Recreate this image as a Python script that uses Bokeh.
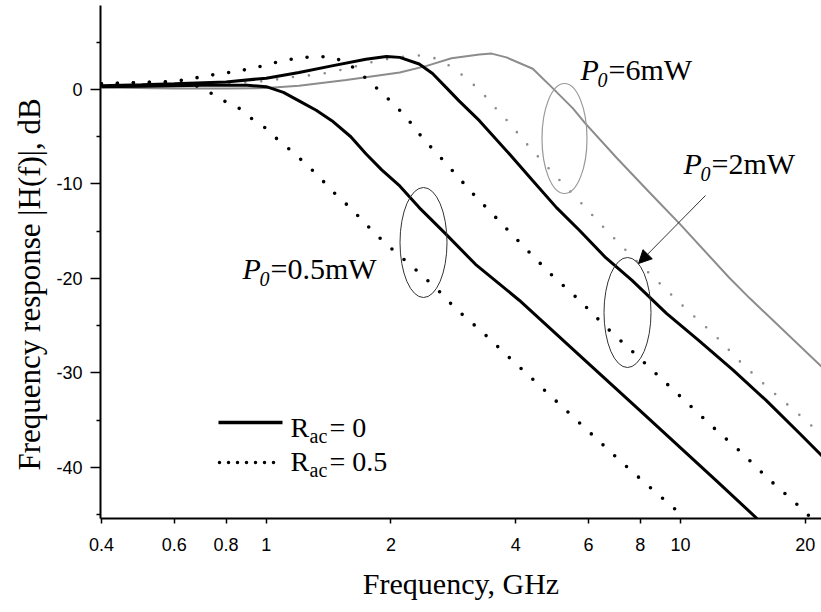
from bokeh.plotting import figure
from bokeh.models import FixedTicker, Label, Arrow, NormalHead, Range1d, Title
from bokeh.embed import file_html
from bokeh.resources import INLINE

# ---------------- data ----------------
x_ticks = [0.4, 0.6, 0.8, 1, 2, 4, 6, 8, 10, 20]
x_tick_labels = ["0.4", "0.6", "0.8", "1", "2", "4", "6", "8", "10", "20"]
y_ticks = [0, -10, -20, -30, -40]
y_tick_labels = ["0", "-10", "-20", "-30", "-40"]
y_minor_ticks = [5, -5, -15, -25, -35, -45]

# P0 = 0.5 mW, Rac = 0 (solid black)
f_p05_r0 = [0.4, 0.5, 0.6, 0.7, 0.8, 0.9, 1.0, 1.1, 1.2, 1.32, 1.44, 1.6, 1.74, 1.9,
            2.1, 2.34, 2.7, 3.2, 4.08, 6.0, 8.0, 12.2, 15.3]
h_p05_r0 = [0.3, 0.35, 0.4, 0.45, 0.45, 0.45, 0.3, -0.3, -1.2, -2.2, -3.3, -5.0, -6.8, -8.5,
            -10.2, -12.5, -15.2, -18.5, -22.3, -29.0, -34.0, -41.4, -45.4]

# P0 = 0.5 mW, Rac = 0.5 (dotted black)
f_p05_r05 = [0.4, 0.5, 0.6, 0.67, 0.73, 0.78, 0.85, 0.91, 0.99, 1.06, 1.15, 1.24, 1.34, 1.44,
             1.55, 1.66, 1.79, 1.93, 2.10, 2.26, 2.45, 2.65, 2.85, 3.33, 3.89, 4.51, 5.25,
             6.11, 7.11, 8.29, 9.7]
h_p05_r05 = [0.6, 0.75, 0.8, 0.5, -0.3, -1.1, -1.8, -2.9, -4.0, -5.2, -6.5, -7.8, -9.2, -10.7,
             -12.0, -13.3, -14.8, -16.2, -17.6, -18.8, -20.2, -21.6, -23.1, -25.7, -28.5, -31.1,
             -33.8, -36.5, -39.2, -41.8, -44.4]

# P0 = 2 mW, Rac = 0 (solid black)
f_p2_r0 = [0.4, 0.5, 0.6, 0.8, 1.0, 1.2, 1.44, 1.74, 1.95, 2.1, 2.34, 2.52, 2.72, 2.92, 3.27,
           3.86, 4.39, 5.02, 5.7, 6.6, 7.64, 9.25, 11.1, 13.4, 16.1, 19.4, 22.0]
h_p2_r0 = [0.4, 0.5, 0.6, 0.8, 1.2, 1.8, 2.5, 3.2, 3.5, 3.4, 2.7, 1.7, 0.2, -1.2, -3.3,
           -6.8, -9.6, -12.5, -14.9, -17.8, -20.2, -23.7, -26.6, -29.7, -32.9, -36.4, -38.8]

# P0 = 2 mW, Rac = 0.5 (dotted black)
f_p2_r05 = [0.4, 0.5, 0.6, 0.67, 0.73, 0.78, 0.85, 0.91, 0.98, 1.06, 1.15, 1.24, 1.33, 1.44,
            1.56, 1.66, 1.80, 1.95, 2.10, 2.25, 2.38, 2.74, 3.15, 3.63, 4.20, 4.88, 5.7, 6.63,
            7.69, 8.99, 10.4, 12.1, 14.1, 16.3, 19.0, 20.4]
h_p2_r05 = [0.6, 0.75, 0.85, 1.2, 1.5, 1.7, 1.9, 2.2, 2.5, 2.9, 3.2, 3.4, 3.5, 3.4,
            2.9, 2.0, 0.6, -0.8, -2.2, -3.7, -5.1, -8.0, -11.0, -13.8, -16.7, -19.6, -22.3, -25.2,
            -27.8, -30.6, -33.2, -35.9, -38.5, -41.2, -43.8, -45.1]

# P0 = 6 mW, Rac = 0 (solid grey)
f_p6_r0 = [0.4, 0.6, 0.8, 1.0, 1.2, 1.56, 2.1, 2.44, 2.8, 3.27, 3.5, 3.8, 4.4, 4.9, 5.5,
           5.87, 7.0, 8.42, 10.0, 13.1, 14.7, 22.0]
h_p6_r0 = [0.2, 0.1, 0.1, 0.15, 0.4, 1.0, 1.8, 2.5, 3.3, 3.7, 3.8, 3.4, 2.2, 0.2, -2.0,
           -3.5, -7.2, -10.9, -14.3, -19.9, -22.1, -29.4]

# P0 = 6 mW, Rac = 0.5 (dotted grey)
f_p6_r05 = [0.4, 0.6, 0.8, 1.0, 1.15, 1.34, 1.56, 1.80, 2.0, 2.25, 2.43, 2.64, 2.84, 3.06,
            3.30, 3.55, 3.80, 4.34, 4.96, 5.70, 6.59, 7.65, 8.90, 10.3, 12.1, 14.0, 16.2,
            19.1, 22.0]
h_p6_r05 = [0.3, 0.4, 0.6, 0.9, 1.3, 1.6, 2.2, 2.9, 3.3, 3.6, 3.6, 3.1, 2.2, 1.1,
            -0.2, -1.8, -3.2, -6.2, -9.0, -11.8, -14.8, -17.7, -20.5, -23.2, -26.0, -28.9, -31.5,
            -34.2, -36.6]

# ---------------- layout helpers (page pixels -> data) ----------------
X0, X1 = 0.398, 21.9
Y0, Y1 = -45.4, 8.89
FRAME_L, FRAME_T, FRAME_W, FRAME_H = 100, 5, 721, 513


def dx(px):
    return X0 * (X1 / X0) ** ((px - FRAME_L) / FRAME_W)


def dy(py):
    return Y1 - (py - FRAME_T) / FRAME_H * (Y1 - Y0)


SERIF = "Liberation Serif"
SANS = "Liberation Sans"

p = figure(width=821, height=612, x_axis_type="log",
           x_range=Range1d(X0, X1), y_range=Range1d(Y0, Y1),
           output_backend="svg", toolbar_location=None,
           min_border_left=100, min_border_right=0, min_border_top=5, min_border_bottom=94)
p.outline_line_color = None
p.grid.visible = False
p.background_fill_color = "white"
p.border_fill_color = "white"

# axes
p.xaxis.ticker = FixedTicker(ticks=x_ticks, minor_ticks=[])
p.xaxis.major_label_overrides = {float(t): s for t, s in zip(x_ticks, x_tick_labels)}
p.yaxis.ticker = FixedTicker(ticks=y_ticks, minor_ticks=y_minor_ticks)
p.yaxis.major_label_overrides = {float(t): s for t, s in zip(y_ticks, y_tick_labels)}
for ax in (p.xaxis, p.yaxis):
    ax.axis_line_width = 2
    ax.axis_line_color = "black"
    ax.major_tick_in = 0
    ax.minor_tick_in = 0
    ax.major_tick_line_width = 1.5
    ax.minor_tick_line_width = 1.5
    ax.major_label_text_font = SANS
    ax.major_label_text_font_size = "18px"
    ax.major_label_text_color = "black"
p.xaxis.major_tick_out = 5
p.xaxis.minor_tick_out = 0
p.xaxis.major_label_standoff = 14
p.yaxis.major_tick_out = 10
p.yaxis.minor_tick_out = 4
p.yaxis.major_label_standoff = 8

GREY = "#8c8c8c"
# curves
p.line(f_p6_r0, h_p6_r0, line_color=GREY, line_width=2)
p.line(f_p6_r05, h_p6_r05, line_color=GREY, line_width=2.6, line_dash="0 16", line_cap="round")
p.line(f_p05_r05, h_p05_r05, line_color="black", line_width=3.6, line_dash="0 16", line_cap="round")
p.line(f_p2_r05, h_p2_r05, line_color="black", line_width=3.6, line_dash="0 16", line_cap="round")
p.line(f_p05_r0, h_p05_r0, line_color="black", line_width=3)
p.line(f_p2_r0, h_p2_r0, line_color="black", line_width=3)

# ellipses marking curve groups
p.ellipse(x=[dx(423)], y=[dy(242)], width=47, height=110, width_units="screen",
          height_units="screen", fill_color=None, line_color="#333333", line_width=1)
p.ellipse(x=[dx(564)], y=[dy(138)], width=45, height=110, width_units="screen",
          height_units="screen", fill_color=None, line_color="#999999", line_width=1.2)
p.ellipse(x=[dx(627)], y=[dy(312)], width=47, height=110, width_units="screen",
          height_units="screen", fill_color=None, line_color="#333333", line_width=1)

# arrow to the P0=2mW group
p.add_layout(Arrow(x_start=dx(705), y_start=dy(195), x_end=dx(638), y_end=dy(263),
                   line_width=1, line_color="#333333",
                   end=NormalHead(size=13, fill_color="black", line_color="black")))


def lab(px, py, text, size, style="normal", align="left"):
    # py is the wanted baseline; the renderer sits text ~0.37 em lower
    py = py - 0.37 * size
    p.add_layout(Label(x=dx(px), y=dy(py), text=text, text_font=SERIF,
                       text_font_size=f"{size}px", text_font_style=style,
                       text_align=align, text_baseline="alphabetic",
                       text_color="black"))


def p0_label(px, py, rest):
    lab(px, py, "P", 30, "italic")
    lab(px + 17, py + 7, "0", 20, "italic")
    lab(px + 28, py, rest, 30)


p0_label(580, 80, "=6mW")
p0_label(683, 174, "=2mW")
p0_label(242, 279, "=0.5mW")

# legend
p.segment(x0=[dx(218)], y0=[dy(422)], x1=[dx(282)], y1=[dy(422)], line_color="black", line_width=3.5)
p.segment(x0=[dx(219)], y0=[dy(462)], x1=[dx(277)], y1=[dy(462)], line_color="black",
          line_width=3.5, line_dash="0 9", line_cap="round")
for base, rest in ((437, "= 0"), (471, "= 0.5")):
    lab(290, base, "R", 28)
    lab(309, base + 6, "ac", 20)
    lab(329, base, rest, 28)

# axis titles (as side-panel titles so they can be offset along the axis)
p.add_layout(Title(text="Frequency response |H(f)|, dB", text_font=SERIF,
                   text_font_size="31px", text_font_style="normal", text_color="black",
                   align="left", offset=48, standoff=14), "left")
p.add_layout(Title(text="Frequency, GHz", text_font=SERIF,
                   text_font_size="30px", text_font_style="normal", text_color="black",
                   align="center", standoff=23), "below")

open("out.html", "w").write(file_html(p, INLINE))
